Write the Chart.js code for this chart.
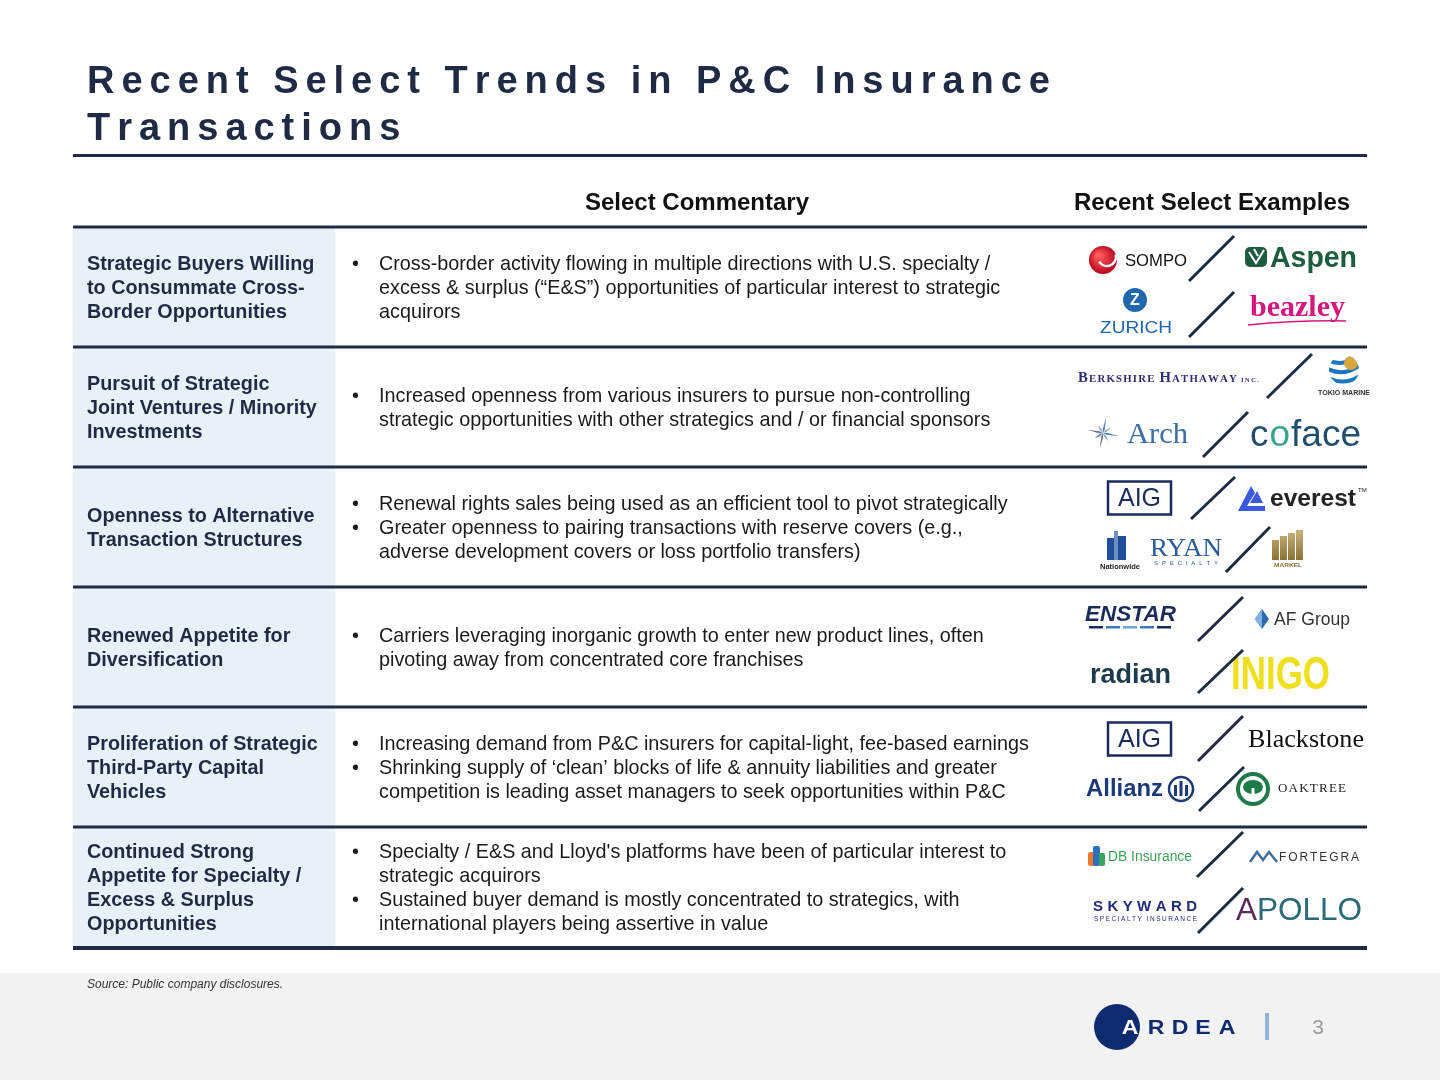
<!DOCTYPE html>
<html><head><meta charset="utf-8">
<script src="https://cdn.jsdelivr.net/npm/chart.js@4.4.1/dist/chart.umd.min.js"></script>
<style>html,body{margin:0;padding:0;background:#fff;}canvas{display:block;}</style>
</head><body>
<canvas id="c" width="1440" height="1080"></canvas>
<script>
// ---------- DATA ----------
const titleLines = ['Recent Select Trends in P&C Insurance', 'Transactions'];
const columnHeaders = ['Select Commentary', 'Recent Select Examples'];
const rowTitles = [
  ['Strategic Buyers Willing', 'to Consummate Cross-', 'Border Opportunities'],
  ['Pursuit of Strategic', 'Joint Ventures / Minority', 'Investments'],
  ['Openness to Alternative', 'Transaction Structures'],
  ['Renewed Appetite for', 'Diversification'],
  ['Proliferation of Strategic', 'Third-Party Capital', 'Vehicles'],
  ['Continued Strong', 'Appetite for Specialty /', 'Excess & Surplus', 'Opportunities']
];
const rowBullets = [
  [['Cross-border activity flowing in multiple directions with U.S. specialty /', 'excess & surplus (\u201cE&S\u201d) opportunities of particular interest to strategic', 'acquirors']],
  [['Increased openness from various insurers to pursue non-controlling', 'strategic opportunities with other strategics and / or financial sponsors']],
  [['Renewal rights sales being used as an efficient tool to pivot strategically'],
   ['Greater openness to pairing transactions with reserve covers (e.g.,', 'adverse development covers or loss portfolio transfers)']],
  [['Carriers leveraging inorganic growth to enter new product lines, often', 'pivoting away from concentrated core franchises']],
  [['Increasing demand from P&C insurers for capital-light, fee-based earnings'],
   ['Shrinking supply of \u2018clean\u2019 blocks of life & annuity liabilities and greater', 'competition is leading asset managers to seek opportunities within P&C']],
  [['Specialty / E&S and Lloyd\'s platforms have been of particular interest to', 'strategic acquirors'],
   ['Sustained buyer demand is mostly concentrated to strategics, with', 'international players being assertive in value']]
];
const rowExamples = [
  ['SOMPO', 'Aspen', 'ZURICH', 'beazley'],
  ['BERKSHIRE', 'TOKIO', 'Arch', 'coface'],
  ['AIG', 'everest', 'RYAN', 'MARKEL'],
  ['ENSTAR', 'AFGROUP', 'radian', 'INIGO'],
  ['AIG', 'Blackstone', 'Allianz', 'OAKTREE'],
  ['DB', 'FORTEGRA', 'SKYWARD', 'APOLLO']
];
const sourceNote = 'Source: Public company disclosures.';
const brandName = 'ARDEA';
const pageNumber = '3';

// ---------- LAYOUT ----------
const NAVY = '#1f2a44';
const SANS = '"Liberation Sans", Arial, sans-serif';
const SERIF = '"Liberation Serif", "Times New Roman", serif';
const TABLE_L = 73, TABLE_R = 1367, LEFT_COL_R = 335;
const logoPos = [
  [[1089, -27], [1245, -29], [1100, 27], [1250, 21]],
  [[1078, -30], [1318, -30], [1087, 26], [1250, 29]],
  [[1108, -29], [1238, -28], [1098, 21], [1272, 21]],
  [[1085, -30], [1254, -28], [1090, 29], [1231, 28]],
  [[1108, -28], [1248, -27], [1086, 22], [1236, 22]],
  [[1088, -30], [1250, -30], [1093, 23], [1236, 24]]
];
const slashPos = [
  [[1189, -6, 1234, -51], [1189, 50, 1234, 5]],
  [[1267, -9, 1312, -53], [1203, 50, 1248, 5]],
  [[1191, -8, 1235, -50], [1226, 45, 1270, 0]],
  [[1198, -6, 1243, -50], [1198, 46, 1243, 3]],
  [[1198, -6, 1243, -51], [1199, 44, 1244, 0]],
  [[1197, -10, 1243, -55], [1198, 46, 1243, 1]]
];

// ---------- HELPERS ----------
function fitText(ctx, text, x, y, w) {
  const m = ctx.measureText(text).width;
  ctx.save(); ctx.translate(x, y); ctx.scale(w / m, 1); ctx.fillText(text, 0, 0); ctx.restore();
}
function spacedFit(ctx, text, x, y, w) {
  const chars = [...text];
  const widths = chars.map(c => ctx.measureText(c).width);
  const sum = widths.reduce((a, b) => a + b, 0);
  const sp = (w - sum) / (chars.length - 1);
  let cx = x;
  chars.forEach((c, i) => { ctx.fillText(c, cx, y); cx += widths[i] + sp; });
  return sp;
}
function spaced(ctx, text, x, y, sp) {
  let cx = x;
  for (const c of text) { ctx.fillText(c, cx, y); cx += ctx.measureText(c).width + sp; }
}
function line(ctx, x1, y1, x2, y2, w, col) {
  ctx.save(); ctx.strokeStyle = col; ctx.lineWidth = w; ctx.beginPath(); ctx.moveTo(x1, y1); ctx.lineTo(x2, y2); ctx.stroke(); ctx.restore();
}

// ---------- LOGOS ----------
const LOGOS = {
  SOMPO(ctx, x, y) {
    const g = ctx.createRadialGradient(x + 9, y - 5, 2, x + 14, y, 15);
    g.addColorStop(0, '#ff5a5a'); g.addColorStop(1, '#b3001b');
    ctx.fillStyle = g; ctx.beginPath(); ctx.arc(x + 14, y, 14, 0, Math.PI * 2); ctx.fill();
    ctx.strokeStyle = '#fff'; ctx.lineWidth = 2.5; ctx.beginPath(); ctx.arc(x + 18, y - 3, 9, -0.3, 2.6); ctx.stroke();
    ctx.fillStyle = '#111'; ctx.font = '17px ' + SANS; ctx.textBaseline = 'middle';
    fitText(ctx, 'SOMPO', x + 36, y + 1, 62);
  },
  Aspen(ctx, x, y) {
    ctx.fillStyle = '#1d5c3f';
    ctx.beginPath(); ctx.roundRect(x, y - 11, 22, 20, 5); ctx.fill();
    ctx.strokeStyle = '#fff'; ctx.lineWidth = 2;
    ctx.beginPath(); ctx.moveTo(x + 4, y - 6); ctx.lineTo(x + 11, y + 5); ctx.lineTo(x + 19, y - 8); ctx.stroke();
    ctx.beginPath(); ctx.moveTo(x + 9, y - 9); ctx.lineTo(x + 13, y - 2); ctx.stroke();
    ctx.font = 'bold 29px ' + SANS; ctx.textBaseline = 'middle';
    fitText(ctx, 'Aspen', x + 25, y + 1, 87);
  },
  ZURICH(ctx, x, y) {
    ctx.fillStyle = '#2167ae'; ctx.beginPath(); ctx.arc(x + 35, y - 14, 12, 0, Math.PI * 2); ctx.fill();
    ctx.fillStyle = '#fff'; ctx.font = 'bold 16px ' + SANS; ctx.textAlign = 'center'; ctx.textBaseline = 'middle';
    ctx.fillText('Z', x + 35, y - 13); ctx.textAlign = 'left';
    ctx.fillStyle = '#2167ae'; ctx.font = '17px ' + SANS;
    fitText(ctx, 'ZURICH', x, y + 14, 72);
  },
  beazley(ctx, x, y) {
    ctx.fillStyle = '#d6177e'; ctx.font = 'bold 30px ' + SERIF; ctx.textBaseline = 'alphabetic';
    fitText(ctx, 'beazley', x, y + 8, 95);
    ctx.strokeStyle = '#d6177e'; ctx.lineWidth = 1.5;
    ctx.beginPath(); ctx.moveTo(x - 2, y + 17); ctx.quadraticCurveTo(x + 50, y + 12, x + 96, y + 13); ctx.stroke();
  },
  BERKSHIRE(ctx, x, y) {
    const segs = [['B', 15], ['ERKSHIRE', 11], [' ', 11], ['H', 15], ['ATHAWAY', 11], [' INC.', 7]];
    ctx.fillStyle = '#2e2d72'; ctx.textBaseline = 'alphabetic';
    let tot = 0;
    segs.forEach(([t, s]) => { ctx.font = 'bold ' + s + 'px ' + SERIF; for (const c of t) tot += ctx.measureText(c).width + 1.2; });
    const k = 182 / tot;
    ctx.save(); ctx.translate(x, y + 5); ctx.scale(k, 1);
    let cx = 0;
    segs.forEach(([t, s]) => { ctx.font = 'bold ' + s + 'px ' + SERIF; for (const c of t) { ctx.fillText(c, cx, 0); cx += ctx.measureText(c).width + 1.2; } });
    ctx.restore();
  },
  TOKIO(ctx, x, y) {
    const cx = x + 26, cy = y - 7;
    ctx.save(); ctx.beginPath(); ctx.arc(cx, cy, 15, 0, Math.PI * 2); ctx.clip();
    ctx.fillStyle = '#fff'; ctx.fillRect(cx - 16, cy - 16, 32, 32);
    ctx.strokeStyle = '#1b77c4'; ctx.lineWidth = 4;
    for (let i = 0; i < 3; i++) { ctx.beginPath(); ctx.moveTo(cx - 16, cy - 10 + i * 9); ctx.quadraticCurveTo(cx, cy - 2 + i * 9, cx + 16, cy - 16 + i * 11); ctx.stroke(); }
    ctx.fillStyle = '#d9a640'; ctx.beginPath(); ctx.arc(cx + 7, cy - 7, 7, 0, Math.PI * 2); ctx.fill();
    ctx.restore();
    ctx.fillStyle = '#333'; ctx.font = 'bold 7px ' + SANS; ctx.textBaseline = 'middle';
    fitText(ctx, 'TOKIO MARINE', x, y + 16, 52);
  },
  Arch(ctx, x, y) {
    const cx = x + 16, cy = y;
    for (let i = 0; i < 8; i++) {
      const a = i * Math.PI / 4 + 0.2, r = i % 2 ? 10 : 16;
      ctx.fillStyle = i % 3 === 0 ? '#4a7fc0' : (i % 2 ? '#9aa4b0' : '#6a7480');
      ctx.beginPath(); ctx.moveTo(cx, cy);
      ctx.lineTo(cx + Math.cos(a - 0.25) * 4, cy + Math.sin(a - 0.25) * 4);
      ctx.lineTo(cx + Math.cos(a) * r, cy + Math.sin(a) * r);
      ctx.lineTo(cx + Math.cos(a + 0.25) * 4, cy + Math.sin(a + 0.25) * 4); ctx.fill();
    }
    ctx.fillStyle = '#3a6ea5'; ctx.font = '30px ' + SERIF; ctx.textBaseline = 'alphabetic';
    fitText(ctx, 'Arch', x + 40, y + 10, 61);
  },
  coface(ctx, x, y) {
    ctx.font = '36px ' + SANS; ctx.textBaseline = 'alphabetic';
    const parts = [['c', '#1f4e6e'], ['o', '#3aa58a'], ['face', '#1f4e6e']];
    let tot = 0; parts.forEach(p => tot += ctx.measureText(p[0]).width + 1);
    const k = 112 / tot; ctx.save(); ctx.translate(x, y + 10); ctx.scale(k, 1);
    let cx = 0; parts.forEach(([t, c]) => { ctx.fillStyle = c; ctx.fillText(t, cx, 0); cx += ctx.measureText(t).width + 1; });
    ctx.restore();
  },
  AIG(ctx, x, y) {
    ctx.strokeStyle = '#1c2b5e'; ctx.lineWidth = 2.5; ctx.strokeRect(x, y - 16.5, 63, 33);
    ctx.fillStyle = '#1c2b5e'; ctx.font = '25px ' + SANS; ctx.textBaseline = 'middle'; ctx.textAlign = 'center';
    ctx.fillText('AIG', x + 31.5, y + 1); ctx.textAlign = 'left';
  },
  everest(ctx, x, y) {
    ctx.fillStyle = '#3a5be0';
    ctx.beginPath(); ctx.moveTo(x, y + 12); ctx.lineTo(x + 13, y - 13); ctx.lineTo(x + 17, y - 6); ctx.lineTo(x + 9, y + 7); ctx.lineTo(x + 27, y + 7); ctx.lineTo(x + 27, y + 12); ctx.closePath(); ctx.fill();
    ctx.beginPath(); ctx.moveTo(x + 12, y + 4); ctx.lineTo(x + 19, y - 8); ctx.lineTo(x + 25, y + 4); ctx.closePath(); ctx.fill();
    ctx.fillStyle = '#222'; ctx.font = 'bold 24px ' + SANS; ctx.textBaseline = 'middle';
    fitText(ctx, 'everest', x + 32, y, 86);
    ctx.font = '6px ' + SANS; ctx.fillText('TM', x + 120, y - 9);
  },
  RYAN(ctx, x, y) {
    ctx.fillStyle = '#1f4f9a';
    ctx.fillRect(x + 9, y - 10, 7, 22); ctx.fillRect(x + 20, y - 12, 8, 24);
    ctx.fillStyle = '#6f8fc0'; ctx.fillRect(x + 16, y - 17, 4, 29);
    ctx.fillStyle = '#222'; ctx.font = 'bold 7px ' + SANS; ctx.textBaseline = 'middle';
    fitText(ctx, 'Nationwide', x + 2, y + 19, 40);
    ctx.fillStyle = '#2a5d9a'; ctx.font = '26px ' + SERIF; ctx.textBaseline = 'alphabetic';
    fitText(ctx, 'RYAN', x + 52, y + 8, 72);
    ctx.font = '6px ' + SANS; ctx.textBaseline = 'middle';
    spacedFit(ctx, 'SPECIALTY', x + 56, y + 15, 64);
  },
  MARKEL(ctx, x, y) {
    const g = ctx.createLinearGradient(x, y - 18, x, y + 12);
    g.addColorStop(0, '#c9b27a'); g.addColorStop(1, '#8a7034');
    ctx.fillStyle = g;
    const tops = [-8, -12, -15, -18];
    tops.forEach((t, i) => ctx.fillRect(x + i * 8, y + t, 7, 12 - t));
    ctx.fillStyle = '#8a7034'; ctx.font = 'bold 6px ' + SANS; ctx.textBaseline = 'middle';
    fitText(ctx, 'MARKEL', x + 2, y + 17, 28);
  },
  ENSTAR(ctx, x, y) {
    ctx.fillStyle = '#1a2b5a'; ctx.font = 'italic bold 22px ' + SANS; ctx.textBaseline = 'middle';
    fitText(ctx, 'ENSTAR', x, y - 2, 91);
    const cols = ['#1a2b5a', '#3a7ac0', '#6aa6e0', '#3a7ac0', '#1a2b5a'];
    cols.forEach((c, i) => { ctx.fillStyle = c; ctx.fillRect(x + 4 + i * 17, y + 9, 14, 2.5); });
  },
  AFGROUP(ctx, x, y) {
    ctx.fillStyle = '#2a6ab0';
    ctx.beginPath(); ctx.moveTo(x + 8, y - 10); ctx.lineTo(x + 15, y); ctx.lineTo(x + 8, y + 10); ctx.lineTo(x + 1, y); ctx.closePath(); ctx.fill();
    ctx.fillStyle = '#7fb0e0';
    ctx.beginPath(); ctx.moveTo(x + 8, y - 10); ctx.lineTo(x + 8, y + 10); ctx.lineTo(x + 1, y); ctx.closePath(); ctx.fill();
    ctx.fillStyle = '#333'; ctx.font = '18px ' + SANS; ctx.textBaseline = 'middle';
    fitText(ctx, 'AF Group', x + 20, y + 1, 76);
  },
  radian(ctx, x, y) {
    ctx.fillStyle = '#1b3a4b'; ctx.font = 'bold 27px ' + SANS; ctx.textBaseline = 'middle';
    fitText(ctx, 'radian', x, y, 81);
  },
  INIGO(ctx, x, y) {
    ctx.fillStyle = '#f0df1c'; ctx.font = 'bold 46px ' + SANS; ctx.textBaseline = 'middle';
    fitText(ctx, 'INIGO', x, y + 1, 99);
  },
  Blackstone(ctx, x, y) {
    ctx.fillStyle = '#111'; ctx.font = '26px ' + SERIF; ctx.textBaseline = 'middle';
    fitText(ctx, 'Blackstone', x, y, 116);
  },
  Allianz(ctx, x, y) {
    ctx.fillStyle = '#1c3a7a'; ctx.font = 'bold 24px ' + SANS; ctx.textBaseline = 'middle';
    fitText(ctx, 'Allianz', x, y, 77);
    ctx.strokeStyle = '#1c3a7a'; ctx.lineWidth = 2.5; ctx.beginPath(); ctx.arc(x + 95, y, 12, 0, Math.PI * 2); ctx.stroke();
    ctx.fillRect(x + 88, y - 4, 3, 11); ctx.fillRect(x + 93.5, y - 8, 3, 15); ctx.fillRect(x + 99, y - 4, 3, 11);
  },
  OAKTREE(ctx, x, y) {
    ctx.strokeStyle = '#1e7a46'; ctx.lineWidth = 4; ctx.beginPath(); ctx.arc(x + 17, y, 15, 0, Math.PI * 2); ctx.stroke();
    ctx.fillStyle = '#1e7a46'; ctx.beginPath(); ctx.ellipse(x + 17, y - 2, 10, 7, 0, 0, Math.PI * 2); ctx.fill();
    ctx.fillStyle = '#fff'; ctx.fillRect(x + 15.5, y - 1, 3, 10);
    ctx.fillStyle = '#222'; ctx.font = '13px ' + SERIF; ctx.textBaseline = 'middle';
    spacedFit(ctx, 'OAKTREE', x + 42, y, 68);
  },
  DB(ctx, x, y) {
    ctx.fillStyle = '#f07a2a'; ctx.beginPath(); ctx.roundRect(x, y - 5, 7, 14, 2); ctx.fill();
    ctx.fillStyle = '#2a70c0'; ctx.beginPath(); ctx.roundRect(x + 5, y - 11, 7, 20, 2); ctx.fill();
    ctx.fillStyle = '#3aa35a'; ctx.beginPath(); ctx.roundRect(x + 11, y - 4, 6, 13, 2); ctx.fill();
    ctx.fillStyle = '#3aa35a'; ctx.font = '14px ' + SANS; ctx.textBaseline = 'middle';
    fitText(ctx, 'DB Insurance', x + 20, y, 84);
  },
  FORTEGRA(ctx, x, y) {
    ctx.strokeStyle = '#3f6f9a'; ctx.lineWidth = 2.5; ctx.beginPath();
    ctx.moveTo(x, y + 5); ctx.lineTo(x + 7, y - 5); ctx.lineTo(x + 13, y + 3); ctx.lineTo(x + 19, y - 5); ctx.lineTo(x + 27, y + 5); ctx.stroke();
    ctx.fillStyle = '#333'; ctx.font = '12px ' + SANS; ctx.textBaseline = 'middle';
    spacedFit(ctx, 'FORTEGRA', x + 29, y + 1, 80);
  },
  SKYWARD(ctx, x, y) {
    ctx.fillStyle = '#232a78'; ctx.font = 'bold 15px ' + SANS; ctx.textBaseline = 'middle';
    spacedFit(ctx, 'SKYWARD', x, y - 3, 104);
    ctx.font = '6.5px ' + SANS;
    spacedFit(ctx, 'SPECIALTY INSURANCE', x + 1, y + 9, 103);
  },
  APOLLO(ctx, x, y) {
    ctx.font = '32px ' + SANS; ctx.textBaseline = 'middle';
    const parts = [['A', '#5a2a5a'], ['POLLO', '#2a6a7a']];
    let tot = 0; parts.forEach(p => tot += ctx.measureText(p[0]).width);
    const k = 126 / tot; ctx.save(); ctx.translate(x, y); ctx.scale(k, 1);
    let cx = 0; parts.forEach(([t, c]) => { ctx.fillStyle = c; ctx.fillText(t, cx, 0); cx += ctx.measureText(t).width; });
    ctx.restore();
  }
};

// ---------- PLUGIN ----------
const slidePlugin = {
  id: 'slide',
  beforeDraw(chart) {
    const ctx = chart.ctx;
    ctx.save();
    ctx.fillStyle = '#ffffff'; ctx.fillRect(0, 0, chart.width, chart.height);
    ctx.fillStyle = '#f2f2f2'; ctx.fillRect(0, 973, chart.width, chart.height - 973);
    ctx.restore();
  },
  afterDatasetsDraw(chart) {
    const ctx = chart.ctx;
    const ys = chart.scales.y;
    const n = rowTitles.length;
    const band = (ys.bottom - ys.top) / n;
    ctx.save();

    // Title
    ctx.fillStyle = NAVY; ctx.font = 'bold 38px ' + SANS; ctx.textBaseline = 'alphabetic'; ctx.textAlign = 'left';
    const sp = spacedFit(ctx, titleLines[0], 87, 93, 963);
    spaced(ctx, titleLines[1], 87, 140, sp);
    line(ctx, TABLE_L, 155.5, TABLE_R, 155.5, 3, NAVY);

    // Column headers
    ctx.fillStyle = '#111'; ctx.font = 'bold 24px ' + SANS; ctx.textAlign = 'center';
    ctx.fillText(columnHeaders[0], 697, 210);
    ctx.fillText(columnHeaders[1], 1212, 210);
    ctx.textAlign = 'left';

    // Rows
    for (let i = 0; i < n; i++) {
      const c = ys.getPixelForValue(i);
      ctx.fillStyle = NAVY; ctx.font = 'bold 19.8px ' + SANS; ctx.textBaseline = 'alphabetic';
      const t = rowTitles[i];
      t.forEach((s, k) => ctx.fillText(s, 87, c - (t.length - 1) * 12 + k * 24 + 7));
      const lines = [];
      rowBullets[i].forEach(b => b.forEach((s, k) => lines.push([s, k === 0])));
      ctx.fillStyle = '#1a1a1a'; ctx.font = '19.8px ' + SANS;
      lines.forEach(([s, first], k) => {
        const yb = c - (lines.length - 1) * 12 + k * 24 + 7;
        if (first) ctx.fillText('\u2022', 352, yb);
        ctx.fillText(s, 379, yb);
      });
      rowExamples[i].forEach((name, k) => {
        const [lx, dy] = logoPos[i][k];
        ctx.save(); LOGOS[name](ctx, lx, c + dy); ctx.restore();
      });
      slashPos[i].forEach(([x1, d1, x2, d2]) => line(ctx, x1, c + d1, x2, c + d2, 3, NAVY));
    }
    for (let i = 0; i <= n; i++) {
      const y = ys.top + i * band;
      if (i === n) line(ctx, TABLE_L, y + 1, TABLE_R, y + 1, 4, NAVY);
      else line(ctx, TABLE_L, y, TABLE_R, y, 3, NAVY);
    }

    // Footer
    ctx.fillStyle = '#333'; ctx.font = 'italic 12px ' + SANS; ctx.textBaseline = 'middle';
    ctx.fillText(sourceNote, 87, 985);
    ctx.fillStyle = '#0d2b6e'; ctx.beginPath(); ctx.arc(1117, 1027, 23, 0, Math.PI * 2); ctx.fill();
    ctx.font = 'bold 21px ' + SANS; ctx.textAlign = 'center';
    const xs = [1130, 1156, 1180, 1203, 1227];
    [...brandName].forEach((ch, k) => {
      ctx.fillStyle = k === 0 ? '#ffffff' : '#0d2b6e';
      ctx.save(); ctx.translate(xs[k], 1028); ctx.scale(1.1, 1); ctx.fillText(ch, 0, 0); ctx.restore();
    });
    line(ctx, 1267, 1013, 1267, 1040, 4, '#8fb4d8');
    ctx.fillStyle = '#999'; ctx.font = '21px ' + SANS;
    ctx.fillText(pageNumber, 1318, 1028);
    ctx.restore();
  }
};

// ---------- CHART ----------
const labels = rowTitles.map(t => t.join(' '));
new Chart(document.getElementById('c'), {
  type: 'bar',
  data: {
    labels,
    datasets: [{
      data: labels.map(() => [TABLE_L, LEFT_COL_R]),
      backgroundColor: '#e9f1f8',
      borderWidth: 0,
      barPercentage: 1,
      categoryPercentage: 1
    }]
  },
  options: {
    indexAxis: 'y',
    responsive: false,
    maintainAspectRatio: false,
    animation: false,
    devicePixelRatio: 1,
    layout: { padding: { top: 227, bottom: 133, left: 0, right: 0 } },
    scales: {
      x: { type: 'linear', min: 0, max: 1440, display: false },
      y: { type: 'category', display: false, offset: true }
    },
    plugins: { legend: { display: false }, tooltip: { enabled: false }, title: { display: false } }
  },
  plugins: [slidePlugin]
});
</script>
</body></html>
